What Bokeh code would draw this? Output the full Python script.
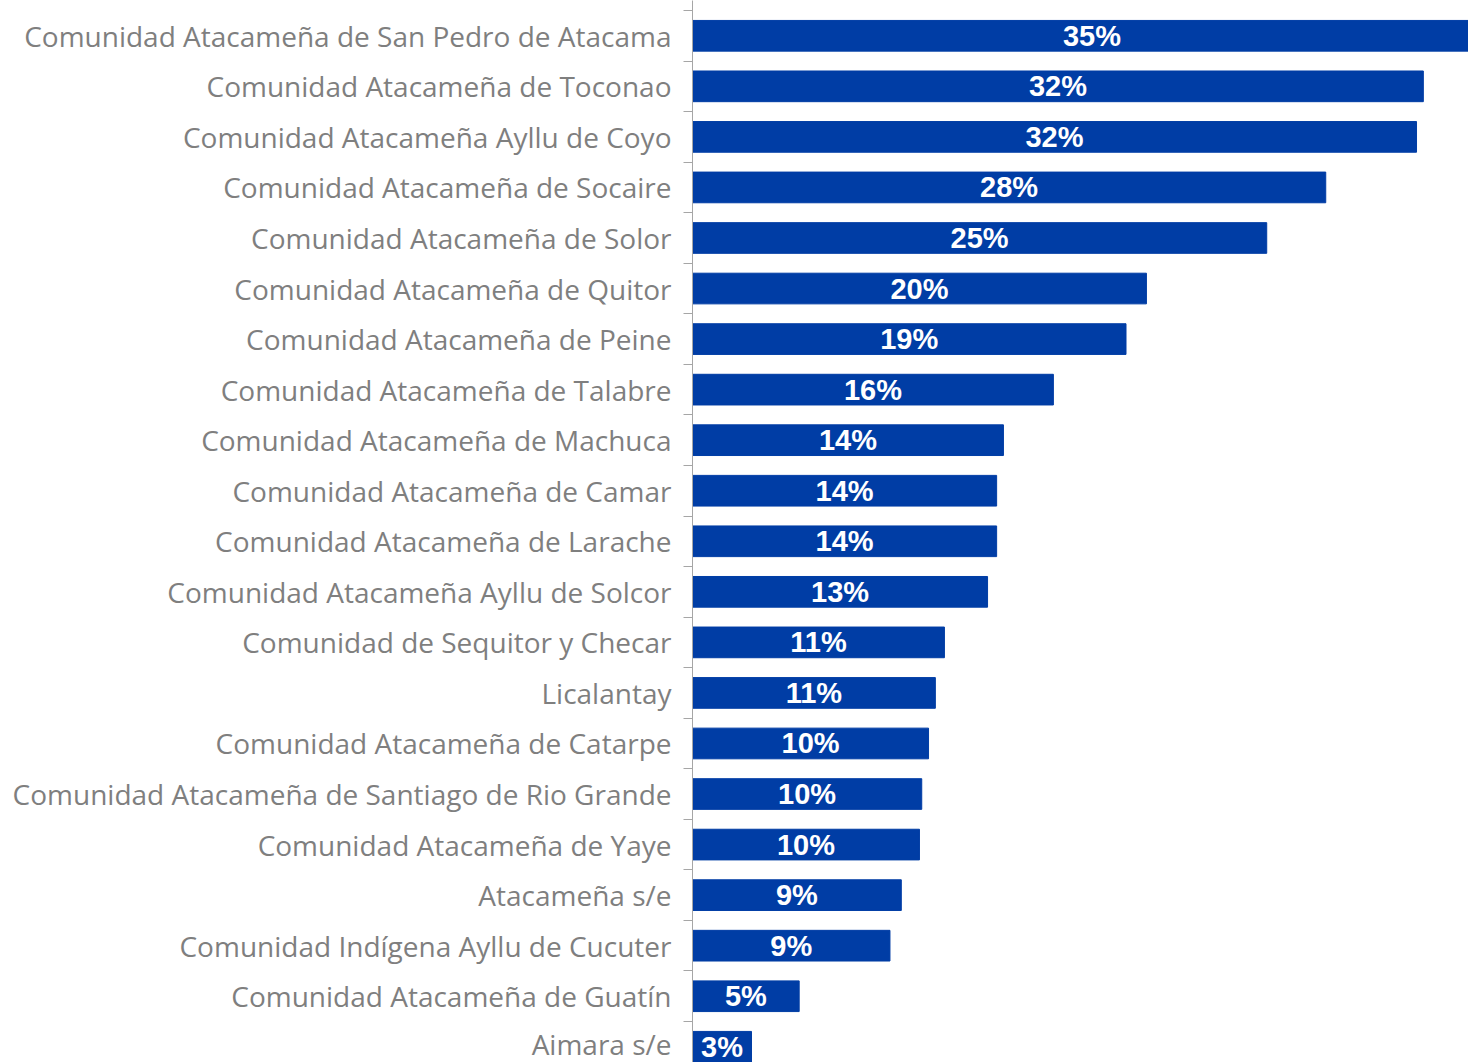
from bokeh.plotting import figure
from bokeh.models import Range1d, FixedTicker, ColumnDataSource
from bokeh.embed import file_html
from bokeh.resources import INLINE
from bokeh.core.properties import value

categories = [
    "Comunidad Atacameña de San Pedro de Atacama",
    "Comunidad Atacameña de Toconao",
    "Comunidad Atacameña Ayllu de Coyo",
    "Comunidad Atacameña de Socaire",
    "Comunidad Atacameña de Solor",
    "Comunidad Atacameña de Quitor",
    "Comunidad Atacameña de Peine",
    "Comunidad Atacameña de Talabre",
    "Comunidad Atacameña de Machuca",
    "Comunidad Atacameña de Camar",
    "Comunidad Atacameña de Larache",
    "Comunidad Atacameña Ayllu de Solcor",
    "Comunidad de Sequitor y Checar",
    "Licalantay",
    "Comunidad Atacameña de Catarpe",
    "Comunidad Atacameña de Santiago de Rio Grande",
    "Comunidad Atacameña de Yaye",
    "Atacameña s/e",
    "Comunidad Indígena Ayllu de Cucuter",
    "Comunidad Atacameña de Guatín",
    "Aimara s/e",
]
values = [35.2, 32.2, 31.9, 27.9, 25.3, 20.0, 19.1, 15.9, 13.7, 13.4, 13.4,
          13.0, 11.1, 10.7, 10.4, 10.1, 10.0, 9.2, 8.7, 4.7, 2.6]
value_labels = ["35%", "32%", "32%", "28%", "25%", "20%", "19%", "16%", "14%",
                "14%", "14%", "13%", "11%", "11%", "10%", "10%", "10%", "9%",
                "9%", "5%", "3%"]

n = len(categories)
ypos = [n - 1 - i for i in range(n)]
src = ColumnDataSource(dict(
    y=ypos, v=values, mid=[v / 2 for v in values], lab=value_labels))

p = figure(width=1468, height=1062, output_backend="svg", toolbar_location=None,
           x_range=Range1d(0, 34.19), y_range=Range1d(-0.311, n - 1 + 0.698),
           min_border_left=692, min_border_right=0, min_border_top=0,
           min_border_bottom=0)
p.xaxis.visible = False
p.xgrid.visible = False
p.ygrid.visible = False
p.outline_line_color = None
p.background_fill_color = "white"
p.border_fill_color = "white"

p.hbar(y="y", left=0, right="v", height=0.607, source=src,
       fill_color="#003DA5", line_color="#003DA5")
p.text(x="mid", y="y", text="lab", source=src, text_align="center",
       text_baseline="middle", text_color="white",
       text_font=value("Liberation Sans"), text_font_style="bold",
       text_font_size="29px")

yax = p.yaxis[0]
yax.ticker = FixedTicker(ticks=ypos, minor_ticks=[k - 0.5 for k in range(n + 1)])
yax.major_label_overrides = {y: c for y, c in zip(ypos, categories)}
yax.major_tick_out = 0
yax.major_tick_in = 0
yax.minor_tick_out = 9
yax.minor_tick_in = 0
yax.minor_tick_line_color = "#A6A6A6"
yax.axis_line_color = "#A6A6A6"
yax.major_label_standoff = 12
yax.major_label_text_font = "Open Sans"
yax.major_label_text_font_size = "28px"
yax.major_label_text_color = "#7F7F7F"

open("out.html", "w").write(file_html(p, INLINE))
